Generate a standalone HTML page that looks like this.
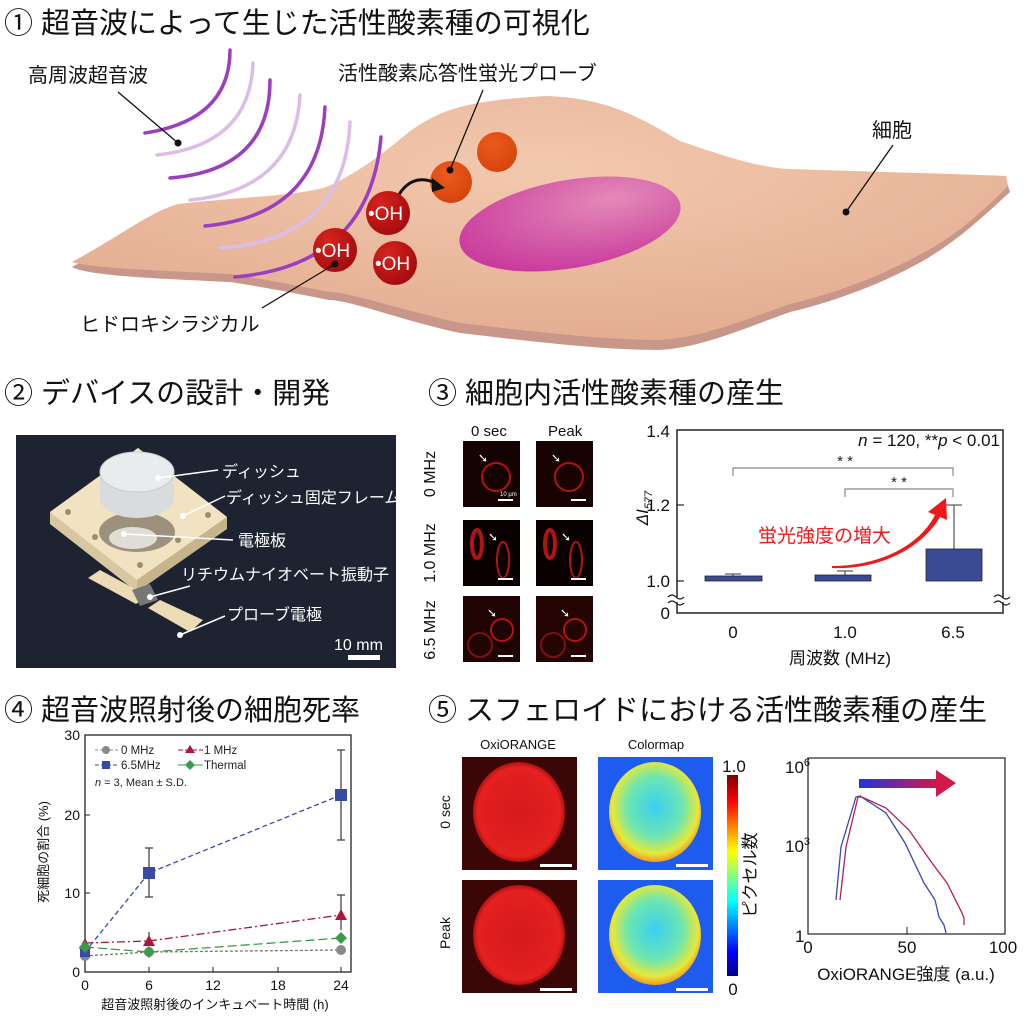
<!DOCTYPE html>
<html><head><meta charset="utf-8"><style>
html,body{margin:0;padding:0;background:#fff;}
svg{display:block;font-family:"Liberation Sans","Noto Sans CJK JP",sans-serif;}
</style></head><body>
<svg width="1024" height="1020" viewBox="0 0 1024 1020" xmlns="http://www.w3.org/2000/svg">
<defs>
<radialGradient id="cellg" cx="0.5" cy="0.3" r="0.7"><stop offset="0" stop-color="#f3c9ae"/><stop offset="1" stop-color="#e3ad92"/></radialGradient>
<radialGradient id="nuc" cx="0.7" cy="0.3" r="0.8"><stop offset="0" stop-color="#e48ab8"/><stop offset="1" stop-color="#c8389c"/></radialGradient>
<radialGradient id="oh" cx="0.35" cy="0.3" r="0.7"><stop offset="0" stop-color="#d8231d"/><stop offset="1" stop-color="#a50d10"/></radialGradient>
<radialGradient id="org" cx="0.4" cy="0.3" r="0.7"><stop offset="0" stop-color="#ec5a1c"/><stop offset="1" stop-color="#d6450e"/></radialGradient>
<linearGradient id="jet" x1="0" y1="1" x2="0" y2="0"><stop offset="0" stop-color="#00007f"/><stop offset="0.12" stop-color="#0000ff"/><stop offset="0.37" stop-color="#00ffff"/><stop offset="0.62" stop-color="#ffff00"/><stop offset="0.87" stop-color="#ff0000"/><stop offset="1" stop-color="#7f0000"/></linearGradient>
<linearGradient id="arrowg" x1="0" x2="1"><stop offset="0" stop-color="#2233dd"/><stop offset="1" stop-color="#d0184a"/></linearGradient>
<radialGradient id="oxi" cx="0.5" cy="0.5" r="0.5"><stop offset="0" stop-color="#d41a1a"/><stop offset="0.9" stop-color="#e52020"/><stop offset="1" stop-color="#b01010"/></radialGradient>
<radialGradient id="cmap" cx="0.5" cy="0.45" r="0.55"><stop offset="0" stop-color="#3ad0f0"/><stop offset="0.55" stop-color="#6ee6b0"/><stop offset="0.85" stop-color="#e6e83a"/><stop offset="1" stop-color="#f29a20"/></radialGradient>
</defs>

<!-- Section 1 -->
<text x="4" y="33" font-size="29" fill="#111">① 超音波によって生じた活性酸素種の可視化</text>
<path d="M72,267 C120,240 150,215 178,207 C250,200 300,200 329,190 C360,175 380,160 410,135 C440,115 460,105 546,100 C600,102 630,115 680,145 C724,160 760,172 790,173 C880,176 960,178 1006,180 L1010,192 C990,210 960,240 921,262 C870,290 820,305 790,312 C740,330 700,348 658,350 C600,350 520,340 460,333 C400,320 350,300 329,300 C280,290 250,285 230,282 C150,278 90,276 72,267 Z" fill="#c9968a"/>
<path d="M72,262 C120,236 150,212 178,204 C250,196 300,196 329,186 C360,171 380,156 410,131 C440,111 460,101 546,96 C600,98 630,111 680,141 C724,156 760,168 790,169 C880,172 960,174 1006,176 L1008,186 C990,204 960,234 921,254 C870,282 820,297 790,304 C740,322 700,338 658,340 C600,340 520,330 460,323 C400,310 350,292 329,292 C280,282 250,277 230,274 C150,270 90,268 72,262 Z" fill="url(#cellg)"/>
<ellipse cx="570" cy="224" rx="112" ry="44" transform="rotate(-10 570 224)" fill="url(#nuc)"/>
<g fill="none" stroke-width="3.5" stroke-linecap="round">
<path d="M230,50 Q230,120 145,133" stroke="#9a3fc0"/>
<path d="M253,63 Q250,145 157,155" stroke="#dcbde8"/>
<path d="M270,80 Q270,170 170,178" stroke="#9a3fc0"/>
<path d="M300,95 Q295,190 190,200" stroke="#dcbde8"/>
<path d="M325,107 Q320,215 205,226" stroke="#9a3fc0"/>
<path d="M350,122 Q345,240 220,248" stroke="#dcbde8"/>
<path d="M381,137 Q370,265 235,277" stroke="#9a3fc0"/>
</g>
<circle cx="497" cy="152" r="20" fill="url(#org)"/>
<circle cx="451" cy="182" r="21" fill="url(#org)"/>
<path d="M395,202 C405,180 420,175 438,184" fill="none" stroke="#111" stroke-width="3"/>
<polygon points="445,188 432,178 432,192" fill="#111"/>
<circle cx="388" cy="213" r="22" fill="url(#oh)"/>
<circle cx="335" cy="250" r="22" fill="url(#oh)"/>
<circle cx="395" cy="263" r="22" fill="url(#oh)"/>
<g fill="#fff" font-size="19"><text x="368" y="220">•OH</text><text x="315" y="257">•OH</text><text x="375" y="270">•OH</text></g>
<g stroke="#111" stroke-width="1.3"><line x1="118" y1="92" x2="178" y2="143"/><line x1="483" y1="90" x2="450" y2="170"/><line x1="893" y1="145" x2="846" y2="212"/><line x1="262" y1="308" x2="335" y2="264"/></g>
<g fill="#111"><circle cx="178" cy="143" r="3.5"/><circle cx="450" cy="170" r="3.5"/><circle cx="846" cy="212" r="3.5"/><circle cx="335" cy="264" r="3.5"/></g>
<g font-size="20" fill="#111"><text x="28" y="82">高周波超音波</text><text x="338" y="80">活性酸素応答性蛍光プローブ</text><text x="872" y="137">細胞</text><text x="80" y="331">ヒドロキシラジカル</text></g>

<!-- Section 2 -->
<text x="4" y="403" font-size="29" fill="#111">② デバイスの設計・開発</text>
<rect x="16" y="435" width="380" height="233" fill="#1d2330"/>
<polygon points="50,512 138,448 227,517 137,580 137,592 50,524" fill="#d9c7a2"/>
<polygon points="137,580 227,517 227,529 137,592" fill="#c8b48c"/>
<polygon points="50,512 138,448 227,517 137,580" fill="#f1e3c2"/>
<ellipse cx="137" cy="532" rx="38" ry="20" fill="#9c917f"/>
<ellipse cx="133" cy="538" rx="24" ry="11" fill="#e0ddd6"/>
<g fill="#9e8d6c"><circle cx="68" cy="512" r="3"/><circle cx="105" cy="480" r="3"/><circle cx="208" cy="515" r="3"/><circle cx="178" cy="540" r="3"/><circle cx="140" cy="565" r="3"/><circle cx="95" cy="537" r="3"/></g>
<path d="M100,472 L100,498 A37,20 0 0 0 174,498 L174,472 Z" fill="#d8dcdc"/>
<ellipse cx="137" cy="472" rx="37" ry="20" fill="#e9ecec" stroke="#c8cccc"/>
<polygon points="88,578 100,570 148,596 136,604" fill="#ecdcb6"/>
<polygon points="148,608 160,600 203,620 190,632" fill="#ecdcb6"/>
<polygon points="132,590 150,584 158,600 140,606" fill="#777"/>
<rect x="348" y="655" width="32" height="5" fill="#fff"/>
<g stroke="#fff" stroke-width="1.5"><line x1="158" y1="478" x2="218" y2="470"/><line x1="183" y1="516" x2="225" y2="496"/><line x1="124" y1="534" x2="233" y2="540"/><line x1="150" y1="597" x2="190" y2="586"/><line x1="180" y1="635" x2="225" y2="616"/></g>
<g fill="#fff"><circle cx="158" cy="478" r="3"/><circle cx="183" cy="516" r="3"/><circle cx="124" cy="534" r="3"/><circle cx="150" cy="597" r="3"/><circle cx="180" cy="635" r="3"/></g>
<g font-size="16" fill="#fff"><text x="222" y="477">ディッシュ</text><text x="226" y="503">ディッシュ固定フレーム</text><text x="238" y="546">電極板</text><text x="181" y="580">リチウムナイオベート振動子</text><text x="227" y="620">プローブ電極</text><text x="334" y="650" font-size="16">10 mm</text></g>

<!-- Section 3 -->
<text x="428" y="403" font-size="29" fill="#111">③ 細胞内活性酸素種の産生</text>
<g font-size="15" fill="#111"><text x="471" y="436">0 sec</text><text x="548" y="436">Peak</text></g>
<g font-size="16" fill="#111">
<text transform="translate(435,474) rotate(-90)" text-anchor="middle">0 MHz</text>
<text transform="translate(435,553) rotate(-90)" text-anchor="middle">1.0 MHz</text>
<text transform="translate(435,630) rotate(-90)" text-anchor="middle">6.5 MHz</text></g>
<g>
<rect x="463" y="441" width="57" height="66" fill="#150202"/><rect x="536" y="441" width="57" height="66" fill="#180202"/>
<rect x="463" y="520" width="57" height="66" fill="#0a0000"/><rect x="536" y="520" width="57" height="66" fill="#0a0000"/>
<rect x="463" y="596" width="57" height="66" fill="#200303"/><rect x="536" y="596" width="57" height="66" fill="#250404"/>
<g fill="none" stroke="#b01414" stroke-width="2">
<circle cx="496" cy="477" r="14"/><circle cx="569" cy="477" r="14"/>
<ellipse cx="477" cy="544" rx="5" ry="14" stroke-width="4"/><ellipse cx="550" cy="544" rx="5" ry="14" stroke-width="4"/>
<ellipse cx="503" cy="560" rx="6" ry="18"/><ellipse cx="576" cy="560" rx="6" ry="18"/>
<circle cx="502" cy="630" r="11"/><circle cx="575" cy="630" r="11"/>
<circle cx="480" cy="645" r="12" stroke="#801010"/><circle cx="553" cy="645" r="12" stroke="#801010"/>
</g>
<g fill="#fff"><rect x="498" y="499" width="15" height="2"/><rect x="571" y="499" width="15" height="2"/><rect x="498" y="578" width="15" height="2"/><rect x="571" y="578" width="15" height="2"/><rect x="498" y="655" width="15" height="2"/><rect x="571" y="655" width="15" height="2"/>
<text x="500" y="496" font-size="6">10 μm</text>
<g font-size="12"><text x="478" y="462">➘</text><text x="551" y="462">➘</text><text x="488" y="541">➘</text><text x="561" y="541">➘</text><text x="487" y="617">➘</text><text x="560" y="617">➘</text></g></g>
</g>
<rect x="677" y="430" width="326" height="183" fill="none" stroke="#222" stroke-width="1.5"/>
<g stroke="#fff" stroke-width="4"><line x1="670" y1="600" x2="684" y2="600"/><line x1="996" y1="600" x2="1010" y2="600"/></g>
<g stroke="#222" stroke-width="1.2" fill="none"><path d="M668,597 q4,-4 8,0 t8,0"/><path d="M668,603 q4,-4 8,0 t8,0"/><path d="M994,597 q4,-4 8,0 t8,0"/><path d="M994,603 q4,-4 8,0 t8,0"/>
<line x1="677" y1="505" x2="684" y2="505"/><line x1="677" y1="581" x2="684" y2="581"/></g>
<g font-size="17" fill="#111" text-anchor="end"><text x="670" y="437">1.4</text><text x="670" y="511">1.2</text><text x="670" y="587">1.0</text><text x="670" y="619">0</text></g>
<text transform="translate(648,508) rotate(-90)" font-size="17" font-style="italic" text-anchor="middle" fill="#111">ΔI<tspan font-size="11" dy="4">577</tspan></text>
<g font-size="17" fill="#111" text-anchor="middle"><text x="733" y="638">0</text><text x="845" y="638">1.0</text><text x="953" y="638">6.5</text><text x="840" y="664">周波数 (MHz)</text></g>
<text x="1000" y="446" font-size="17" text-anchor="end" fill="#111"><tspan font-style="italic">n</tspan> = 120, **<tspan font-style="italic">p</tspan> &lt; 0.01</text>
<g stroke="#888" fill="none" stroke-width="1.2"><path d="M733,476 V468 H953 V476"/><path d="M845,497 V489 H953 V497"/></g>
<g font-size="15" fill="#222" text-anchor="middle"><text x="845" y="466">* *</text><text x="899" y="487">* *</text></g>
<g stroke="#555" stroke-width="1.2"><line x1="733" y1="574" x2="733" y2="577"/><line x1="725" y1="574" x2="741" y2="574"/><line x1="845" y1="571" x2="845" y2="577"/><line x1="837" y1="571" x2="853" y2="571"/><line x1="954" y1="505" x2="954" y2="549"/><line x1="946" y1="505" x2="962" y2="505"/></g>
<g fill="#3a4b94" stroke="#223" stroke-width="0.8"><rect x="705" y="576" width="57" height="5"/><rect x="815" y="575" width="56" height="6"/><rect x="926" y="549" width="56" height="32"/></g>
<path d="M832,566 C880,566 920,545 935,515 L928,512 L946,498 L947,520 L940,517 C922,548 880,570 832,568 Z" fill="#ee1a1a"/>
<text x="758" y="542" font-size="19" fill="#ee1a1a">蛍光強度の増大</text>

<!-- Section 4 -->
<text x="4" y="720" font-size="29" fill="#111">④ 超音波照射後の細胞死率</text>
<rect x="85" y="735" width="266" height="237" fill="none" stroke="#222" stroke-width="1.3"/>
<g stroke="#222" stroke-width="1"><line x1="85" y1="815" x2="90" y2="815"/><line x1="85" y1="893" x2="90" y2="893"/><line x1="149" y1="972" x2="149" y2="967"/><line x1="213" y1="972" x2="213" y2="967"/><line x1="278" y1="972" x2="278" y2="967"/><line x1="341" y1="972" x2="341" y2="967"/></g>
<g font-size="14" fill="#111" text-anchor="end"><text x="80" y="740">30</text><text x="80" y="820">20</text><text x="80" y="898">10</text><text x="80" y="977">0</text></g>
<g font-size="14" fill="#111" text-anchor="middle"><text x="85" y="990">0</text><text x="149" y="990">6</text><text x="213" y="990">12</text><text x="278" y="990">18</text><text x="341" y="990">24</text><text x="215" y="1009" font-size="13">超音波照射後のインキュベート時間 (h)</text></g>
<text transform="translate(48,852) rotate(-90)" font-size="13" text-anchor="middle" fill="#111">死細胞の割合 (%)</text>
<g stroke="#444" stroke-width="1.3"><line x1="149" y1="848" x2="149" y2="897"/><line x1="145" y1="848" x2="153" y2="848"/><line x1="145" y1="897" x2="153" y2="897"/><line x1="341" y1="750" x2="341" y2="840"/><line x1="337" y1="750" x2="345" y2="750"/><line x1="337" y1="840" x2="345" y2="840"/><line x1="341" y1="895" x2="341" y2="930"/><line x1="337" y1="895" x2="345" y2="895"/><line x1="149" y1="932" x2="149" y2="945"/></g>
<g fill="none" stroke-width="1.3">
<polyline points="85,956 149,952 341,950" stroke="#777" stroke-dasharray="3,2"/>
<polyline points="85,943 149,941 341,915" stroke="#a01640" stroke-dasharray="8,3,2,3"/>
<polyline points="85,947 149,952 341,938" stroke="#3a9a4a" stroke-dasharray="9,4"/>
<polyline points="85,952 149,873 341,795" stroke="#3a48a8" stroke-dasharray="5,3"/>
</g>
<g fill="#888"><circle cx="85" cy="956" r="5"/><circle cx="149" cy="952" r="5"/><circle cx="341" cy="950" r="5"/></g>
<g fill="#b0143c"><polygon points="149,935 155,946 143,946"/><polygon points="341,909 347,920 335,920"/><polygon points="85,938 91,949 79,949"/></g>
<g fill="#3a48a8"><rect x="80" y="947" width="10" height="10"/><rect x="143" y="867" width="12" height="12"/><rect x="335" y="789" width="12" height="12"/></g>
<g fill="#3c9a4c"><polygon points="85,941 91,947 85,953 79,947"/><polygon points="149,946 155,952 149,958 143,952"/><polygon points="341,932 347,938 341,944 335,938"/></g>
<g font-size="11.5" fill="#222">
<line x1="95" y1="750" x2="119" y2="750" stroke="#888" stroke-dasharray="3,2"/><circle cx="106" cy="750" r="4" fill="#888"/><text x="121" y="754">0 MHz</text>
<line x1="178" y1="750" x2="203" y2="750" stroke="#a01640" stroke-dasharray="5,2"/><polygon points="190,745 195,753 185,753" fill="#b0143c"/><text x="204" y="754">1 MHz</text>
<line x1="95" y1="765" x2="119" y2="765" stroke="#3a48a8" stroke-dasharray="4,2"/><rect x="102" y="761" width="8" height="8" fill="#3a48a8"/><text x="121" y="769">6.5MHz</text>
<line x1="178" y1="765" x2="203" y2="765" stroke="#3a9a4a"/><polygon points="190,760 195,765 190,770 185,765" fill="#3c9a4c"/><text x="204" y="769">Thermal</text>
<text x="95" y="786" font-size="11"><tspan font-style="italic">n</tspan> = 3, Mean ± S.D.</text></g>

<!-- Section 5 -->
<text x="428" y="720" font-size="29" fill="#111">⑤ スフェロイドにおける活性酸素種の産生</text>
<g font-size="13" fill="#111" text-anchor="middle"><text x="518" y="749">OxiORANGE</text><text x="656" y="749">Colormap</text></g>
<g font-size="14" fill="#111"><text transform="translate(450,812) rotate(-90)" text-anchor="middle">0 sec</text><text transform="translate(450,933) rotate(-90)" text-anchor="middle">Peak</text></g>
<rect x="462" y="757" width="115" height="113" fill="#3a0606"/>
<rect x="462" y="880" width="115" height="113" fill="#3a0606"/>
<ellipse cx="519" cy="812" rx="46" ry="50" fill="url(#oxi)"/>
<ellipse cx="519" cy="935" rx="46" ry="50" fill="url(#oxi)"/>
<rect x="598" y="757" width="115" height="113" fill="#1e5cf0"/>
<rect x="598" y="880" width="115" height="113" fill="#1e5cf0"/>
<ellipse cx="655" cy="812" rx="46" ry="50" fill="url(#cmap)"/>
<ellipse cx="655" cy="935" rx="46" ry="50" fill="url(#cmap)"/>
<g fill="#fff"><rect x="540" y="864" width="32" height="3"/><rect x="540" y="988" width="32" height="3"/><rect x="676" y="864" width="32" height="3"/><rect x="676" y="988" width="32" height="3"/></g>
<rect x="727" y="775" width="11" height="201" fill="url(#jet)"/>
<g font-size="17" fill="#111" text-anchor="middle"><text x="734" y="772">1.0</text><text x="733" y="995">0</text></g>
<text transform="translate(756,875) rotate(-90)" font-size="17" text-anchor="middle" fill="#111">ピクセル数</text>
<rect x="808" y="758" width="197" height="176" fill="none" stroke="#333" stroke-width="1.3"/>
<line x1="907" y1="934" x2="907" y2="927" stroke="#222"/>
<g font-size="17" fill="#111"><text x="785" y="773">10<tspan font-size="11" dy="-7">6</tspan></text><text x="785" y="852">10<tspan font-size="11" dy="-7">3</tspan></text><text x="795" y="942">1</text>
<text x="808" y="953" text-anchor="middle">0</text><text x="907" y="953" text-anchor="middle">50</text><text x="1003" y="953" text-anchor="middle">100</text>
<text x="906" y="980" text-anchor="middle">OxiORANGE強度 (a.u.)</text></g>
<rect x="859" y="779" width="78" height="9" fill="url(#arrowg)"/>
<polygon points="936,770 956,783 936,797" fill="#d0184a"/>
<g fill="none" stroke-width="1.3">
<polyline points="836,900 841,847 856,797 860,796 886,813 905,843 924,883 935,900 939,917 944,925 946,933" stroke="#3a48a8"/>
<polyline points="840,900 846,847 858,797 862,797 886,808 909,830 932,863 947,883 962,913 964,918 964,925" stroke="#b02050"/>
</g>
</svg>
</body></html>
